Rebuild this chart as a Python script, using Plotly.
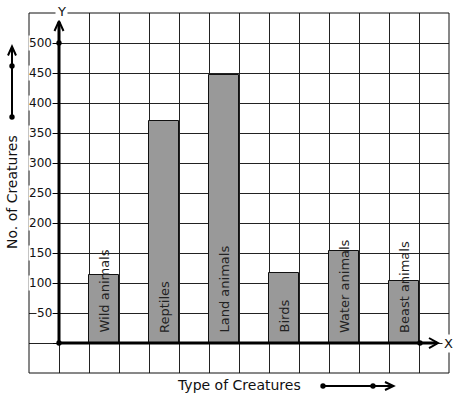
import plotly.graph_objects as go

# ---- data ----
categories = ["Wild animals", "Reptiles", "Land animals", "Birds", "Water animals", "Beast animals"]
values = [113, 370, 447, 117, 154, 103]
y_ticks = [50, 100, 150, 200, 250, 300, 350, 400, 450, 500]
y_tick_labels = [str(v) for v in y_ticks]
x_title = "Type of Creatures"
y_title = "No. of Creatures"

# ---- geometry ----
W, H = 457, 399
L, R, T, B = 29, 449, 13, 373  # plot area in pixels
FONT = "DejaVu Sans"


def px(x, y):
    return (x - L) / (R - L), (B - y) / (B - T)


bar_x = [2 * i + 1.5 for i in range(len(categories))]

fig = go.Figure()
fig.add_trace(go.Bar(
    x=bar_x, y=values, width=1,
    marker=dict(color="#999999", line=dict(color="#111111", width=1)),
    hoverinfo="skip", showlegend=False,
))

shapes = []


def line(p1, p2, w=2):
    (x0, y0), (x1, y1) = px(*p1), px(*p2)
    shapes.append(dict(type="line", xref="paper", yref="paper", x0=x0, y0=y0, x1=x1, y1=y1,
                       line=dict(color="black", width=w), layer="above"))


def path(pts, w=2):
    s = ""
    for i, p in enumerate(pts):
        x, y = px(*p)
        s += ("M" if i == 0 else " L") + f" {x:.5f} {y:.5f}"
    shapes.append(dict(type="path", xref="paper", yref="paper", path=s,
                       line=dict(color="black", width=w), layer="above"))


def dot(cx, cy, r=2.7):
    x0, y0 = px(cx - r, cy + r)
    x1, y1 = px(cx + r, cy - r)
    shapes.append(dict(type="circle", xref="paper", yref="paper", x0=x0, y0=y0, x1=x1, y1=y1,
                       fillcolor="black", line=dict(color="black", width=0), layer="above"))


# frame
shapes.append(dict(type="rect", xref="paper", yref="paper", x0=0, y0=0, x1=1, y1=1,
                   line=dict(color="#111111", width=1), layer="above"))

# Y axis with arrow
line((59, 343), (59, 22), w=3)
path([(54.5, 31), (59, 21), (63.5, 31)], w=2)
dot(59, 43)
dot(59, 343)

# X axis with arrow
line((59, 343), (437, 343), w=3)
path([(429, 338), (438, 343), (429, 348)], w=2)
dot(420, 343)

# left decorative arrow
line((12, 117), (12, 48), w=2)
path([(8, 55.5), (12, 46.5), (16, 55.5)], w=2)
dot(12, 66)
dot(12, 117)

# bottom decorative arrow
line((323, 386), (392, 386), w=2)
path([(385, 382), (393.5, 386), (385, 390)], w=2)
dot(323, 386)
dot(373, 386)

annotations = []
# y tick labels
for v, t in zip(y_ticks, y_tick_labels):
    annotations.append(dict(x=0, y=v, xref="x", yref="y", text=t, showarrow=False,
                            xanchor="right", yanchor="middle", xshift=-6,
                            bgcolor="white", borderpad=0,
                            font=dict(family=FONT, size=12, color="#111111")))

# bar labels (rotated, starting from the base)
for xv, c in zip(bar_x, categories):
    annotations.append(dict(x=xv, y=0, xref="x", yref="y", text=c, showarrow=False,
                            textangle=-90, xanchor="center", yanchor="bottom", yshift=8,
                            font=dict(family=FONT, size=13, color="#222222")))

# axis letters
ax_, ay_ = px(61, 11)
annotations.append(dict(x=ax_, y=ay_, xref="paper", yref="paper", text="Y", showarrow=False,
                        xanchor="center", yanchor="middle", bgcolor="white", borderpad=1,
                        font=dict(family=FONT, size=13, color="#111111")))
bx_, by_ = px(448, 343)
annotations.append(dict(x=bx_, y=by_, xref="paper", yref="paper", text="X", showarrow=False,
                        xanchor="center", yanchor="middle", bgcolor="white", borderpad=1,
                        font=dict(family=FONT, size=13, color="#111111")))

# titles
tx, ty = px(239, 385)
annotations.append(dict(x=tx, y=ty, xref="paper", yref="paper", text=x_title, showarrow=False,
                        xanchor="center", yanchor="middle",
                        font=dict(family=FONT, size=14, color="#111111")))
lx, ly = px(12, 192)
annotations.append(dict(x=lx, y=ly, xref="paper", yref="paper", text=y_title, showarrow=False,
                        textangle=-90, xanchor="center", yanchor="middle",
                        font=dict(family=FONT, size=14, color="#111111")))

fig.update_layout(
    width=W, height=H, autosize=False,
    margin=dict(l=L, r=W - R, t=T, b=H - B, pad=0),
    paper_bgcolor="white", plot_bgcolor="white",
    bargap=0,
    xaxis=dict(range=[-1, 13], tick0=0, dtick=1, showgrid=True, gridcolor="#222222", gridwidth=1,
               showticklabels=False, ticks="", zeroline=False, showline=False, fixedrange=True),
    yaxis=dict(range=[-50, 550], tickvals=[0] + y_ticks, showgrid=True, gridcolor="#222222",
               gridwidth=1, showticklabels=False, ticks="outside", ticklen=6, tickwidth=1,
               tickcolor="black", zeroline=False, showline=False, anchor="free",
               position=1 / 14, fixedrange=True),
    shapes=shapes,
    annotations=annotations,
    showlegend=False,
)

fig.write_html(
    "out.html",
    config={"displayModeBar": False},
    post_script="document.body.style.margin='0';document.body.style.overflow='hidden';",
)
